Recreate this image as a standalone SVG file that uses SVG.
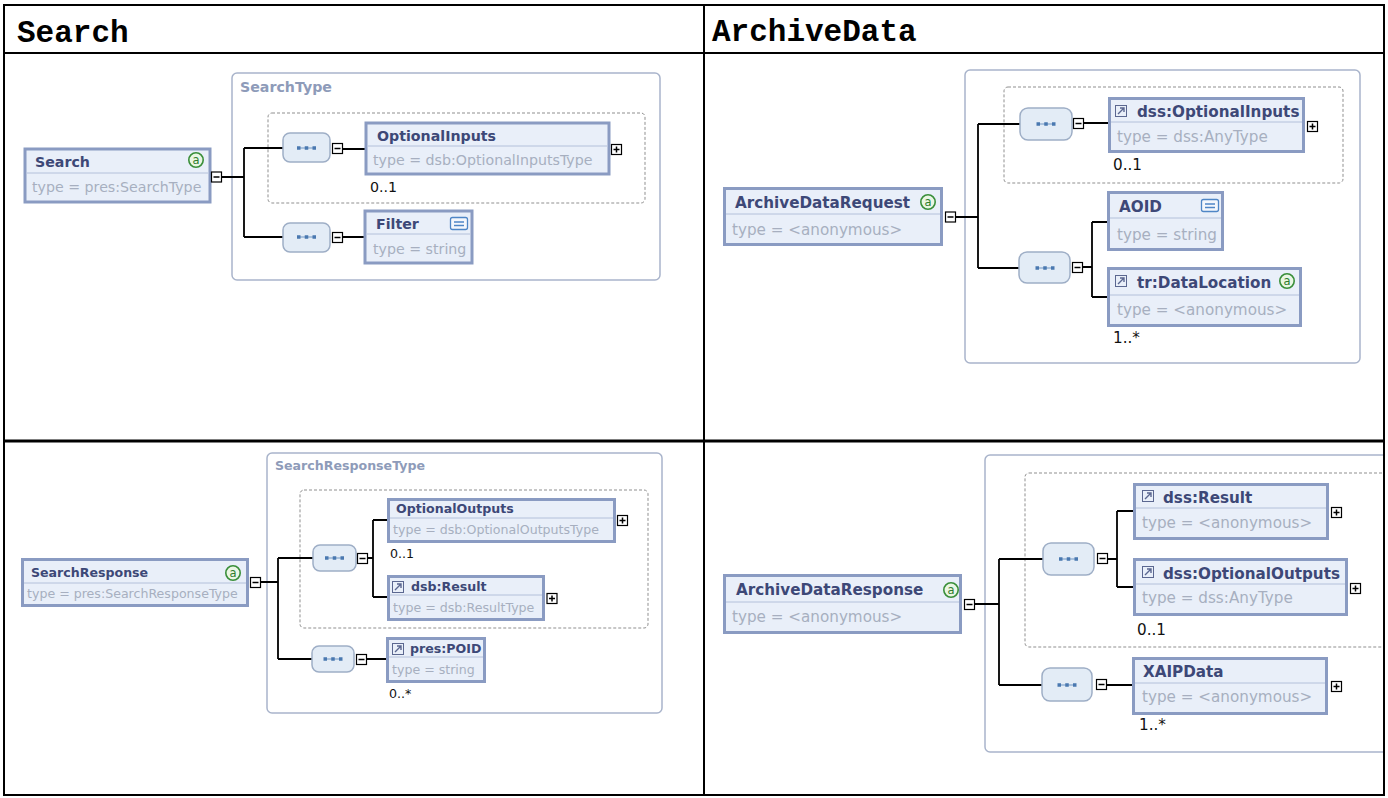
<svg xmlns="http://www.w3.org/2000/svg" width="1388" height="798" viewBox="0 0 1388 798">
<style>
.hd{font-family:"Liberation Mono",monospace;font-weight:bold;font-size:31px;fill:#000}
.tt{font-family:"DejaVu Sans",sans-serif;font-weight:bold;fill:#3d4877}
.ty{font-family:"DejaVu Sans",sans-serif;fill:#a7afc0}
.cd{font-family:"DejaVu Sans",sans-serif;fill:#111}
.cl{font-family:"DejaVu Sans",sans-serif;font-weight:bold;fill:#8e9bb9}
.s1{font-size:14.2px}.s2{font-size:15.2px}.s3{font-size:12.6px}.s4{font-size:15.2px}
.ctr{fill:#fff;stroke:#a9b4cb;stroke-width:1.5}
.dsh{fill:none;stroke:#8f8f8f;stroke-width:1;stroke-dasharray:3 2}
.node{fill:#e9eff9;stroke:#8a9bc2;stroke-width:3}
.sep{stroke:#b3c0da;stroke-width:1}
.seq{fill:#e3ecf6;stroke:#9eaec6;stroke-width:1.5}
.wire{fill:none;stroke:#000;stroke-width:1.8}
.grid{fill:none;stroke:#000;stroke-width:2}
</style>
<defs>
<g id="mn"><rect x="0.5" y="0.5" width="10" height="10" fill="#fff" stroke="#000" stroke-width="1.2"/><path d="M2.5 5.5H8.5" stroke="#000" stroke-width="1.5"/></g>
<g id="pl"><rect x="0.5" y="0.5" width="10" height="10" fill="#fff" stroke="#000" stroke-width="1.2"/><path d="M2.5 5.5H8.5M5.5 2.5V8.5" stroke="#000" stroke-width="1.5"/></g>
<g id="dots"><path d="M-8 0H8" stroke="#7097c4" stroke-width="1"/><rect x="-9.5" y="-1.75" width="3.5" height="3.5" fill="#4a78b0"/><rect x="-1.75" y="-1.75" width="3.5" height="3.5" fill="#4a78b0"/><rect x="6" y="-1.75" width="3.5" height="3.5" fill="#4a78b0"/></g>
<g id="att"><circle cx="0" cy="0" r="7.2" fill="#eaf6e4" stroke="#3a8f3a" stroke-width="1.6"/><text x="0" y="4" text-anchor="middle" font-family="DejaVu Sans,sans-serif" font-size="11.5" fill="#2e7d2e">a</text></g>
<g id="eq"><rect x="0.5" y="0.5" width="17" height="12" rx="2" fill="#f4f7fc" stroke="#4f86c6" stroke-width="1.3"/><path d="M4 5H14M4 8.5H14" stroke="#4f86c6" stroke-width="1.3"/></g>
<g id="ref"><rect x="0.5" y="0.5" width="11" height="11" fill="none" stroke="#5b6790" stroke-width="1"/><path d="M3 9L9 3M5 3H9V7" fill="none" stroke="#5b6790" stroke-width="1.4"/></g>
<clipPath id="q4"><rect x="705" y="442" width="678" height="352"/></clipPath>
</defs>

<rect x="0" y="0" width="1388" height="798" fill="#fff"/>

<!-- headers -->
<text class="hd" x="17" y="42">Search</text>
<text class="hd" x="712" y="41">ArchiveData</text>

<!-- containers -->
<g id="searchtype">
<rect class="ctr" x="232" y="73" width="428" height="207" rx="5"/>
<text class="cl s1" x="240" y="92">SearchType</text>
<rect class="dsh" x="268" y="113" width="377" height="90" rx="4"/>
</g>
<g id="archreq-type">
<rect class="ctr" x="965" y="70" width="395" height="293" rx="5"/>
<rect class="dsh" x="1004" y="87" width="339" height="96" rx="4"/>
</g>
<g id="searchresponsetype">
<rect class="ctr" x="267" y="453" width="395" height="260" rx="5"/>
<text class="cl s3" x="275" y="470">SearchResponseType</text>
<rect class="dsh" x="300" y="490" width="348" height="138" rx="4"/>
</g>
<g id="archresp-type" clip-path="url(#q4)">
<rect class="ctr" x="985" y="455" width="420" height="297" rx="5"/>
<rect class="dsh" x="1025" y="473" width="380" height="174" rx="4"/>
</g>

<!-- connectors -->
<g id="connectors">
<path class="wire" d="M221 177H244M244 148V237M244 148H283M244 237H283M343 149H366M343 237H365"/>
<path class="wire" d="M956 217H978M978 124V268M978 124H1020M978 268H1019M1084 123H1109M1083 267H1092M1092 222V297M1092 222H1108M1092 297H1108"/>
<path class="wire" d="M261 582H278M278 558V659M278 558H313M278 659H312M368 558H373M373 520V597M373 520H388M373 597H388M367 659H387"/>
<path class="wire" d="M975 604H999M999 559V685M999 559H1043M999 685H1042M1108 559H1117M1117 511V587M1117 511H1134M1117 587H1134M1107 685H1133"/>
</g>

<!-- sequence compositors -->
<g id="seq-q1a"><rect class="seq" x="283" y="133" width="47" height="29" rx="7"/><use href="#dots" x="306.5" y="148"/><use href="#mn" x="332" y="143"/></g>
<g id="seq-q1b"><rect class="seq" x="283" y="223" width="47" height="29" rx="7"/><use href="#dots" x="306.5" y="237"/><use href="#mn" x="332" y="232"/></g>
<g id="seq-q2a"><rect class="seq" x="1020" y="108" width="52" height="32" rx="8"/><use href="#dots" x="1046" y="124"/><use href="#mn" x="1073" y="118"/></g>
<g id="seq-q2b"><rect class="seq" x="1019" y="252" width="51" height="31" rx="8"/><use href="#dots" x="1045" y="268"/><use href="#mn" x="1072" y="262"/></g>
<g id="seq-q3a"><rect class="seq" x="313" y="545" width="43" height="26" rx="7"/><use href="#dots" x="334.5" y="558"/><use href="#mn" x="357" y="553"/></g>
<g id="seq-q3b"><rect class="seq" x="312" y="646" width="42" height="26" rx="7"/><use href="#dots" x="333" y="659"/><use href="#mn" x="356" y="654"/></g>
<g id="seq-q4a"><rect class="seq" x="1043" y="543" width="51" height="32" rx="8"/><use href="#dots" x="1068.5" y="559"/><use href="#mn" x="1097" y="553"/></g>
<g id="seq-q4b"><rect class="seq" x="1042" y="668" width="50" height="33" rx="8"/><use href="#dots" x="1067" y="685"/><use href="#mn" x="1096" y="679"/></g>

<!-- Q1 nodes -->
<g id="search">
<rect class="node" x="25" y="149" width="185" height="53"/>
<line class="sep" x1="27" y1="173" x2="208" y2="173"/>
<text class="tt s1" x="35" y="167">Search</text>
<use href="#att" x="196" y="160"/>
<text class="ty s1" x="32" y="192">type = pres:SearchType</text>
<use href="#mn" x="211" y="171.5"/>
</g>
<g id="optionalinputs">
<rect class="node" x="366" y="123" width="243" height="51"/>
<line class="sep" x1="368" y1="146" x2="607" y2="146"/>
<text class="tt s1" x="377" y="141">OptionalInputs</text>
<text class="ty s1" x="373" y="165">type = dsb:OptionalInputsType</text>
<use href="#pl" x="611" y="144"/>
<text class="cd s1" x="370" y="192">0..1</text>
</g>
<g id="filter">
<rect class="node" x="365" y="211" width="107" height="52"/>
<line class="sep" x1="367" y1="234" x2="470" y2="234"/>
<text class="tt s1" x="376" y="229">Filter</text>
<use href="#eq" x="450" y="217"/>
<text class="ty s1" x="373" y="254">type = string</text>
</g>

<!-- Q2 nodes -->
<g id="archivedatarequest">
<rect class="node" x="724.5" y="188.5" width="217" height="56"/>
<line class="sep" x1="726" y1="214" x2="940" y2="214"/>
<text class="tt s2" x="735" y="208">ArchiveDataRequest</text>
<use href="#att" x="928" y="202"/>
<text class="ty s2" x="732" y="235">type = &lt;anonymous&gt;</text>
<use href="#mn" x="945" y="211.5"/>
</g>
<g id="dss-optionalinputs">
<rect class="node" x="1109.5" y="98.5" width="194" height="53"/>
<line class="sep" x1="1111" y1="122" x2="1302" y2="122"/>
<use href="#ref" x="1115" y="105"/>
<text class="tt s2" x="1137" y="117">dss:OptionalInputs</text>
<text class="ty s2" x="1117" y="142">type = dss:AnyType</text>
<use href="#pl" x="1307" y="121"/>
<text class="cd s2" x="1113" y="170">0..1</text>
</g>
<g id="aoid">
<rect class="node" x="1108.5" y="192.5" width="114" height="57"/>
<line class="sep" x1="1110" y1="218" x2="1221" y2="218"/>
<text class="tt s2" x="1119" y="212">AOID</text>
<use href="#eq" x="1201" y="199"/>
<text class="ty s2" x="1117" y="240">type = string</text>
</g>
<g id="tr-datalocation">
<rect class="node" x="1108.5" y="268.5" width="192" height="57"/>
<line class="sep" x1="1110" y1="295" x2="1299" y2="295"/>
<use href="#ref" x="1115" y="275"/>
<text class="tt s2" x="1137" y="288">tr:DataLocation</text>
<use href="#att" x="1287" y="281"/>
<text class="ty s2" x="1117" y="315">type = &lt;anonymous&gt;</text>
<text class="cd s2" x="1113" y="343">1..*</text>
</g>

<!-- Q3 nodes -->
<g id="searchresponse">
<rect class="node" x="22.5" y="559.5" width="225" height="46"/>
<line class="sep" x1="24" y1="583" x2="246" y2="583"/>
<text class="tt s3" x="31" y="577">SearchResponse</text>
<use href="#att" x="233" y="573"/>
<text class="ty s3" x="27" y="598">type = pres:SearchResponseType</text>
<use href="#mn" x="250" y="577"/>
</g>
<g id="optionaloutputs">
<rect class="node" x="388.5" y="499.5" width="226" height="42"/>
<line class="sep" x1="390" y1="518" x2="613" y2="518"/>
<text class="tt s3" x="396" y="513">OptionalOutputs</text>
<text class="ty s3" x="393" y="534">type = dsb:OptionalOutputsType</text>
<use href="#pl" x="617" y="515"/>
<text class="cd s3" x="390" y="558">0..1</text>
</g>
<g id="dsb-result">
<rect class="node" x="388.5" y="576.5" width="155" height="43"/>
<line class="sep" x1="390" y1="595" x2="542" y2="595"/>
<use href="#ref" x="392" y="581"/>
<text class="tt s3" x="411" y="591">dsb:Result</text>
<text class="ty s3" x="393" y="612">type = dsb:ResultType</text>
<use href="#pl" x="546.5" y="593"/>
</g>
<g id="pres-poid">
<rect class="node" x="387.5" y="638.5" width="97" height="43"/>
<line class="sep" x1="389" y1="657" x2="483" y2="657"/>
<use href="#ref" x="392" y="643"/>
<text class="tt s3" x="410" y="653">pres:POID</text>
<text class="ty s3" x="392" y="674">type = string</text>
<text class="cd s3" x="389" y="698">0..*</text>
</g>

<!-- Q4 nodes -->
<g id="archivedataresponse">
<rect class="node" x="724.5" y="575.5" width="236" height="57"/>
<line class="sep" x1="726" y1="602" x2="959" y2="602"/>
<text class="tt s4" x="736" y="595">ArchiveDataResponse</text>
<use href="#att" x="951" y="590"/>
<text class="ty s4" x="732" y="622">type = &lt;anonymous&gt;</text>
<use href="#mn" x="964" y="599"/>
</g>
<g id="dss-result">
<rect class="node" x="1134.5" y="484.5" width="193" height="54"/>
<line class="sep" x1="1136" y1="508" x2="1326" y2="508"/>
<use href="#ref" x="1142" y="490"/>
<text class="tt s4" x="1163" y="503">dss:Result</text>
<text class="ty s4" x="1142" y="528">type = &lt;anonymous&gt;</text>
<use href="#pl" x="1331" y="507"/>
</g>
<g id="dss-optionaloutputs">
<rect class="node" x="1134.5" y="559.5" width="212" height="55"/>
<line class="sep" x1="1136" y1="584" x2="1345" y2="584"/>
<use href="#ref" x="1142" y="566"/>
<text class="tt s4" x="1163" y="579">dss:OptionalOutputs</text>
<text class="ty s4" x="1142" y="603">type = dss:AnyType</text>
<use href="#pl" x="1350" y="583"/>
<text class="cd s4" x="1137" y="635">0..1</text>
</g>
<g id="xaipdata">
<rect class="node" x="1133.5" y="658.5" width="193" height="55"/>
<line class="sep" x1="1135" y1="683" x2="1325" y2="683"/>
<text class="tt s4" x="1143" y="677">XAIPData</text>
<text class="ty s4" x="1142" y="702">type = &lt;anonymous&gt;</text>
<use href="#pl" x="1331" y="681"/>
<text class="cd s4" x="1139" y="730">1..*</text>
</g>

<!-- table grid -->
<g id="table">
<rect class="grid" x="4" y="5" width="1380" height="790"/>
<line class="grid" x1="4" y1="53" x2="1384" y2="53"/>
<line class="grid" x1="4" y1="441" x2="1384" y2="441" style="stroke-width:3"/>
<line class="grid" x1="704" y1="5" x2="704" y2="795"/>
</g>
</svg>
